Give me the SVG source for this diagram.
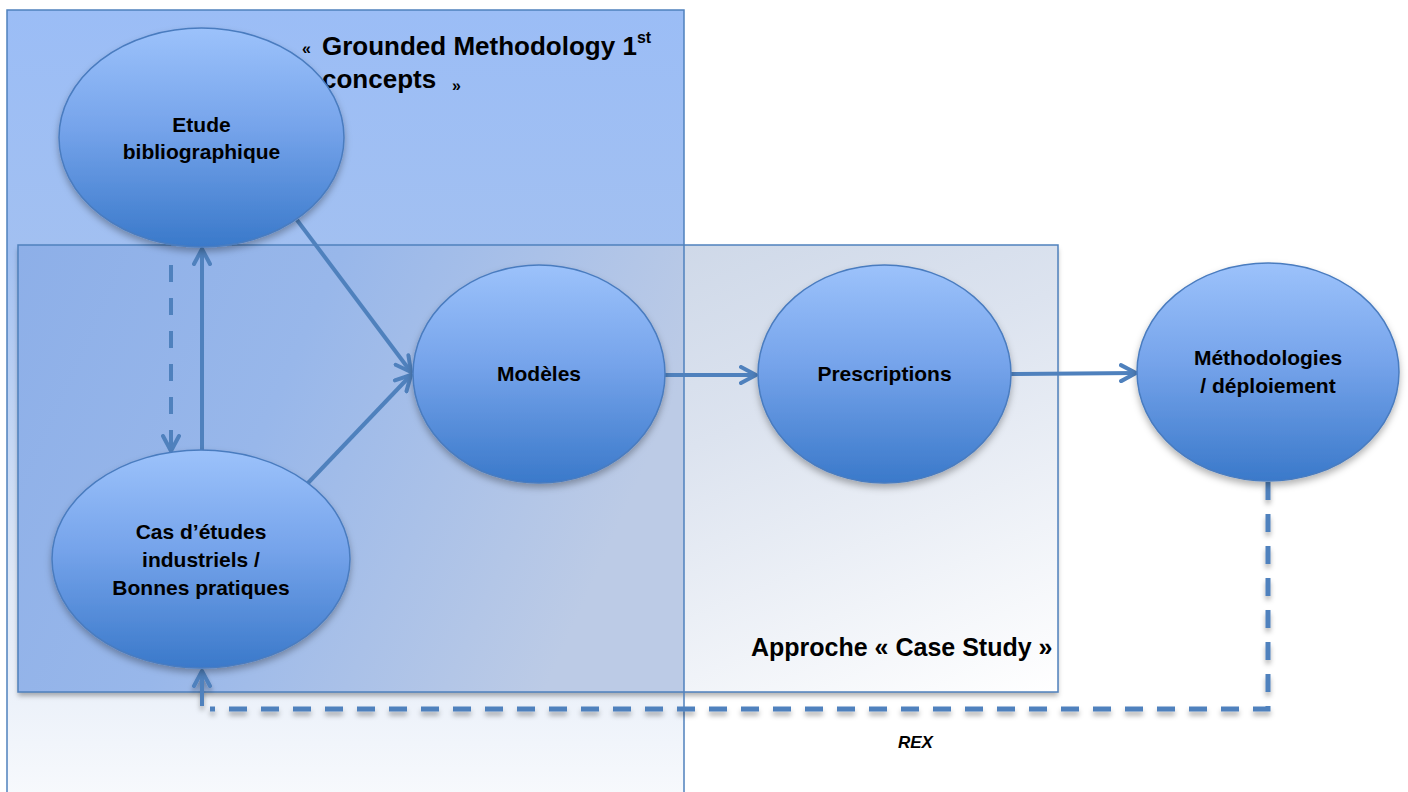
<svg xmlns="http://www.w3.org/2000/svg" width="1408" height="792" viewBox="0 0 1408 792">
<defs>
<linearGradient id="gBig" x1="0" y1="0" x2="0" y2="1">
<stop offset="0" stop-color="#9bbdf6"/>
<stop offset="0.3" stop-color="#a2c0f1"/>
<stop offset="0.72" stop-color="#dfe8f6"/>
<stop offset="1" stop-color="#f8fafd"/>
</linearGradient>
<linearGradient id="gInner" x1="0" y1="0" x2="1" y2="1">
<stop offset="0" stop-color="#bccadf"/>
<stop offset="0.55" stop-color="#dce3ef"/>
<stop offset="1" stop-color="#ffffff"/>
</linearGradient>
<linearGradient id="gOverlap" x1="0" y1="0" x2="1" y2="0.3">
<stop offset="0" stop-color="#8dafe8"/>
<stop offset="0.45" stop-color="#98b7ea"/>
<stop offset="1" stop-color="#bccbe6"/>
</linearGradient>
<linearGradient id="gNode" x1="0" y1="0" x2="0" y2="1">
<stop offset="0" stop-color="#9cc2fb"/>
<stop offset="0.45" stop-color="#76a4eb"/>
<stop offset="1" stop-color="#3a79ca"/>
</linearGradient>
<filter id="sh" x="-20%" y="-20%" width="140%" height="150%">
<feDropShadow dx="0" dy="4" stdDeviation="3.5" flood-color="#000" flood-opacity="0.3"/>
</filter>
<filter id="shl" x="-5%" y="-5%" width="110%" height="120%">
<feDropShadow dx="0" dy="4" stdDeviation="2.5" flood-color="#000" flood-opacity="0.3"/>
</filter>
<marker id="arr" viewBox="0 0 20 20" refX="17" refY="10" markerWidth="20" markerHeight="20" markerUnits="userSpaceOnUse" orient="auto">
<path d="M2 2 L17 10 L2 18" fill="none" stroke="#4f81bd" stroke-width="4" stroke-linecap="round" stroke-linejoin="round"/>
</marker>
<style>
.frame{stroke:#4f81bd;stroke-width:1.5;fill:none}
.node{fill:url(#gNode);stroke:#4a7cbf;stroke-width:1.5;filter:url(#sh)}
.nt{font-family:"Liberation Sans",Arial,sans-serif;font-weight:bold;font-size:21px;fill:#000;text-anchor:middle}
.title{font-family:"Liberation Sans",Arial,sans-serif;font-weight:bold;fill:#000}
.con{stroke:#4f81bd;stroke-width:4;fill:none}
.dash{stroke:#4f81bd;stroke-width:5;fill:none;stroke-dasharray:18 14}
</style>
</defs>

<g id="grounded-box">
<rect x="7" y="10" width="677" height="795" fill="url(#gBig)"/>
</g>
<g id="case-study-box">
<rect x="18" y="245" width="1040" height="447" fill="url(#gInner)" filter="url(#shl)"/>
<rect x="18" y="245" width="666" height="447" fill="url(#gOverlap)"/>
<rect x="18" y="245" width="1040" height="447" class="frame"/>
<text class="title" x="751" y="656" font-size="25">Approche « Case Study »</text>
</g>
<g id="grounded-frame">
<rect x="7" y="10" width="677" height="795" class="frame"/>
<text class="title" x="302" y="54" font-size="16">«</text>
<text class="title" x="322" y="55" font-size="26">Grounded Methodology 1<tspan font-size="16" dy="-12">st</tspan></text>
<text class="title" x="322" y="88" font-size="26">concepts</text>
<text class="title" x="452" y="91" font-size="16">»</text>
</g>

<g id="connectors">
<line class="con" x1="297" y1="220" x2="411" y2="372" marker-end="url(#arr)"/>
<line class="con" x1="308" y1="483" x2="411" y2="375" marker-end="url(#arr)"/>
<line class="con" x1="202" y1="450" x2="202" y2="249" marker-end="url(#arr)"/>
<line class="con" x1="171" y1="265" x2="171" y2="451" stroke-dasharray="17 16" marker-end="url(#arr)"/>
<line class="con" x1="665" y1="375" x2="756" y2="375" marker-end="url(#arr)"/>
<line class="con" x1="1011" y1="374" x2="1136" y2="373" marker-end="url(#arr)"/>
<g id="rex" filter="url(#shl)">
<path class="dash" d="M1268 482 V709 H210"/>
<line class="con" x1="202" y1="706" x2="202" y2="671" marker-end="url(#arr)"/>
</g>
<text x="898" y="748" font-family="Liberation Sans, Arial, sans-serif" font-weight="bold" font-style="italic" font-size="17" fill="#000">REX</text>
</g>

<g id="etude">
<ellipse class="node" cx="201.5" cy="137.5" rx="142.5" ry="109.5"/>
<text class="nt" x="201.5" y="132">Etude</text>
<text class="nt" x="201.5" y="159">bibliographique</text>
</g>
<g id="cas">
<ellipse class="node" cx="201" cy="559" rx="149" ry="109"/>
<text class="nt" x="201" y="539">Cas d’études</text>
<text class="nt" x="201" y="567">industriels /</text>
<text class="nt" x="201" y="595">Bonnes pratiques</text>
</g>
<g id="modeles">
<ellipse class="node" cx="539" cy="374" rx="126" ry="109"/>
<text class="nt" x="539" y="381">Modèles</text>
</g>
<g id="prescriptions">
<ellipse class="node" cx="884.5" cy="374" rx="126.5" ry="109"/>
<text class="nt" x="884.5" y="381">Prescriptions</text>
</g>
<g id="methodologies">
<ellipse class="node" cx="1268" cy="372" rx="131" ry="109"/>
<text class="nt" x="1268" y="365">Méthodologies</text>
<text class="nt" x="1268" y="393">/ déploiement</text>
</g>
</svg>
